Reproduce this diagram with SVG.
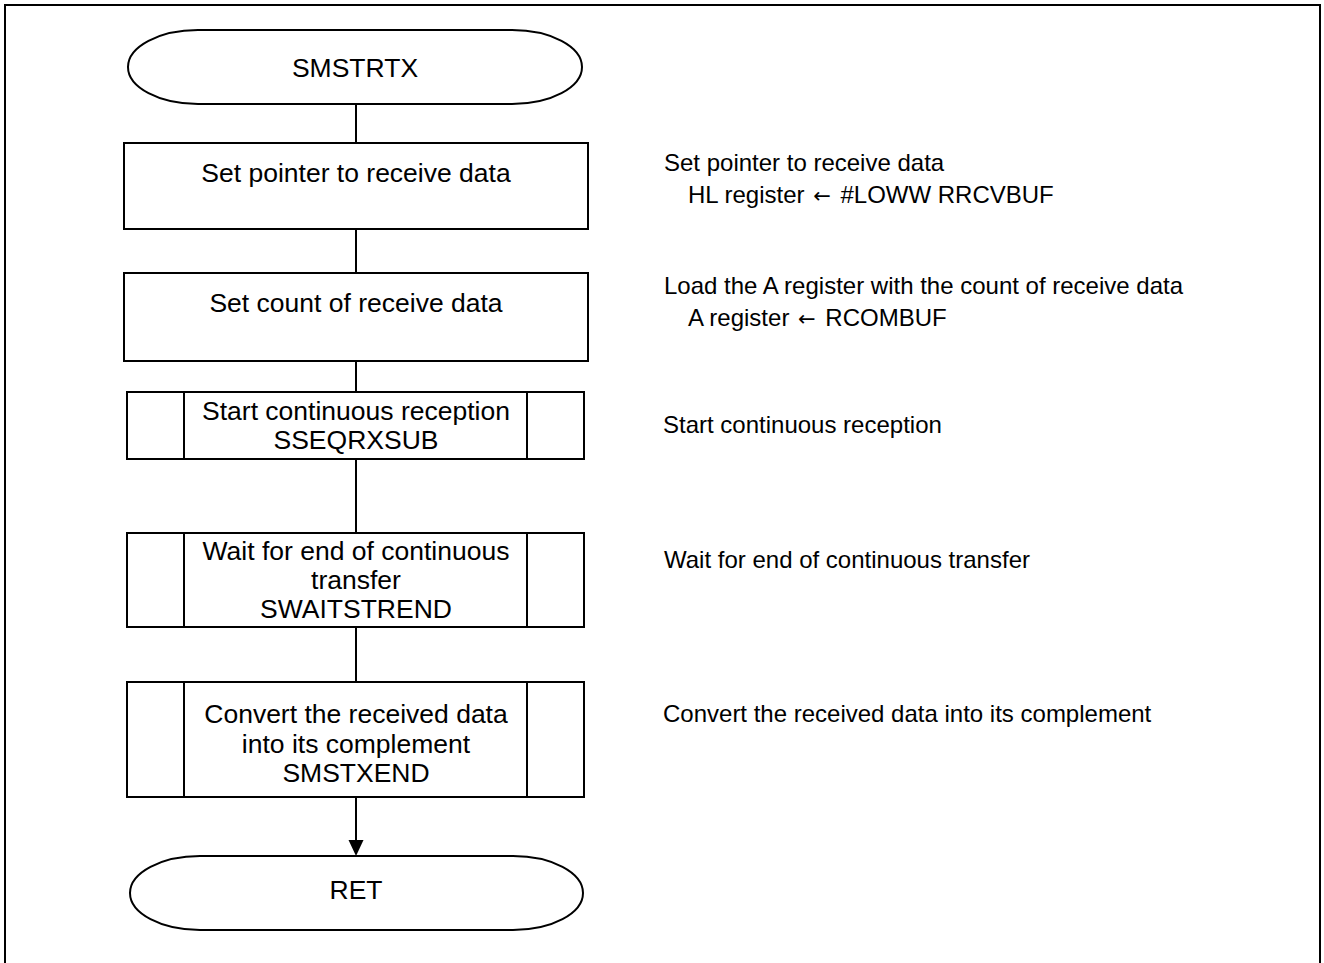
<svg xmlns="http://www.w3.org/2000/svg" width="1324" height="963" viewBox="0 0 1324 963">
<defs>
<style>
.s{fill:#fff;stroke:#000;stroke-width:2}
.l{fill:none;stroke:#000;stroke-width:2}
.t{font-family:"Liberation Sans",Arial,sans-serif;font-size:26.5px;fill:#000;text-anchor:middle}
.n{font-family:"Liberation Sans",Arial,sans-serif;font-size:24px;fill:#000}
.ar{font-family:"DejaVu Sans",sans-serif;font-size:21px}
</style>
</defs>
<rect width="1324" height="963" fill="#fff"/>
<path class="l" d="M5,963 V5 H1320 V963"/>
<g id="connectors">
<line class="l" x1="356" y1="104" x2="356" y2="143"/>
<line class="l" x1="356" y1="229" x2="356" y2="273"/>
<line class="l" x1="356" y1="361" x2="356" y2="392"/>
<line class="l" x1="356" y1="459" x2="356" y2="533"/>
<line class="l" x1="356" y1="627" x2="356" y2="682"/>
<line class="l" x1="356" y1="797" x2="356" y2="842"/>
<path d="M348.5,840 L363.5,840 L356,856 Z" fill="#000"/>
</g>
<g id="start">
<path class="s" d="M198,30 H512 A70,37 0 0 1 512,104 H198 A70,37 0 0 1 198,30 Z"/>
<text class="t" x="355" y="77">SMSTRTX</text>
</g>
<g id="setptr">
<rect class="s" x="124" y="143" width="464" height="86"/>
<text class="t" x="356" y="182">Set pointer to receive data</text>
</g>
<g id="setcount">
<rect class="s" x="124" y="273" width="464" height="88"/>
<text class="t" x="356" y="312">Set count of receive data</text>
</g>
<g id="sseqrxsub">
<rect class="s" x="127" y="392" width="457" height="67"/>
<line class="l" x1="184" y1="392" x2="184" y2="459"/>
<line class="l" x1="527" y1="392" x2="527" y2="459"/>
<text class="t" x="356" y="420">Start continuous reception</text>
<text class="t" x="356" y="449">SSEQRXSUB</text>
</g>
<g id="swaitstrend">
<rect class="s" x="127" y="533" width="457" height="94"/>
<line class="l" x1="184" y1="533" x2="184" y2="627"/>
<line class="l" x1="527" y1="533" x2="527" y2="627"/>
<text class="t" x="356" y="560">Wait for end of continuous</text>
<text class="t" x="356" y="589">transfer</text>
<text class="t" x="356" y="618">SWAITSTREND</text>
</g>
<g id="smstxend">
<rect class="s" x="127" y="682" width="457" height="115"/>
<line class="l" x1="184" y1="682" x2="184" y2="797"/>
<line class="l" x1="527" y1="682" x2="527" y2="797"/>
<text class="t" x="356" y="723">Convert the received data</text>
<text class="t" x="356" y="752.5">into its complement</text>
<text class="t" x="356" y="782">SMSTXEND</text>
</g>
<g id="ret">
<path class="s" d="M200,856 H513 A70,37 0 0 1 513,930 H200 A70,37 0 0 1 200,856 Z"/>
<text class="t" x="356" y="899">RET</text>
</g>
<g id="notes">
<text class="n" x="664" y="171">Set pointer to receive data</text>
<text class="n" x="688" y="203">HL register <tspan class="ar" dx="2">←</tspan><tspan dx="3"> #LOWW RRCVBUF</tspan></text>
<text class="n" x="664" y="294">Load the A register with the count of receive data</text>
<text class="n" x="688" y="326">A register <tspan class="ar" dx="2">←</tspan><tspan dx="3"> RCOMBUF</tspan></text>
<text class="n" x="663" y="433">Start continuous reception</text>
<text class="n" x="664" y="568">Wait for end of continuous transfer</text>
<text class="n" x="663" y="722">Convert the received data into its complement</text>
</g>
</svg>
